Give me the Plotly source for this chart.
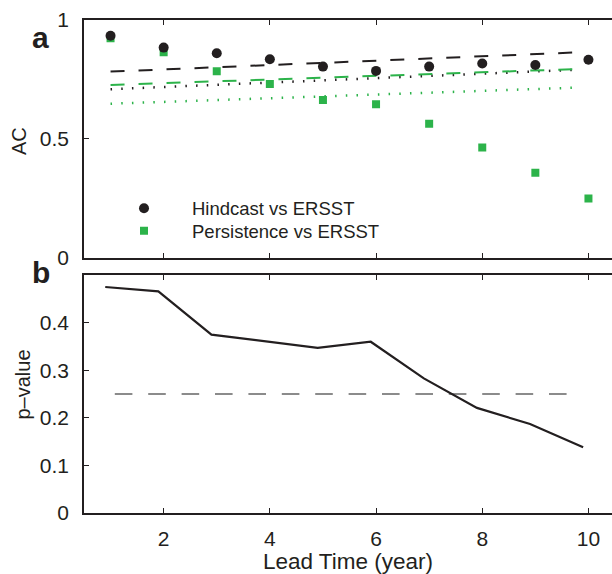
import plotly.graph_objects as go

# Lead times (years)
lead = [1, 2, 3, 4, 5, 6, 7, 8, 9, 10]

# Anomaly correlation skill
hindcast_ac = [0.934, 0.884, 0.860, 0.835, 0.804, 0.786, 0.804, 0.817, 0.811, 0.833]
persistence_ac = [0.923, 0.864, 0.785, 0.731, 0.664, 0.646, 0.564, 0.464, 0.358, 0.250]

# Significance thresholds (straight segments over the lead-time span)
thresh_lead = [1.0, 9.8]
hindcast_thr_hi = [0.783, 0.864]
hindcast_thr_lo = [0.709, 0.791]
persist_thr_hi = [0.727, 0.794]
persist_thr_lo = [0.648, 0.716]

# p-values of the hindcast vs persistence skill difference
pval_lead = [0.9, 1.9, 2.9, 3.9, 4.9, 5.9, 6.9, 7.9, 8.9, 9.9]
pvalue = [0.475, 0.466, 0.375, 0.361, 0.347, 0.360, 0.283, 0.221, 0.187, 0.138]
pref_lead = [1.08, 9.75]
pref_level = [0.25, 0.25]

BLACK = "#231f20"
GREEN = "#2cb34a"
FONT = "Liberation Sans"

fig = go.Figure()

# panel a: threshold lines
fig.add_trace(go.Scatter(x=thresh_lead, y=hindcast_thr_hi, mode="lines", showlegend=False,
                         line=dict(color=BLACK, width=2, dash="14px,14px"), xaxis="x", yaxis="y"))
fig.add_trace(go.Scatter(x=thresh_lead, y=hindcast_thr_lo, mode="lines", showlegend=False,
                         line=dict(color=BLACK, width=2.5, dash="1.5px,9.2px"), xaxis="x", yaxis="y"))
fig.add_trace(go.Scatter(x=thresh_lead, y=persist_thr_hi, mode="lines", showlegend=False,
                         line=dict(color=GREEN, width=2, dash="14px,14px"), xaxis="x", yaxis="y"))
fig.add_trace(go.Scatter(x=thresh_lead, y=persist_thr_lo, mode="lines", showlegend=False,
                         line=dict(color=GREEN, width=2.5, dash="1.5px,9.2px"), xaxis="x", yaxis="y"))

# panel a: skill markers (each with its own legend box)
fig.add_trace(go.Scatter(x=lead, y=persistence_ac, mode="markers", name="Persistence vs ERSST",
                         marker=dict(symbol="square", size=8, color=GREEN, line=dict(width=0)),
                         xaxis="x", yaxis="y", legend="legend2"))
fig.add_trace(go.Scatter(x=lead, y=hindcast_ac, mode="markers", name="Hindcast vs ERSST",
                         marker=dict(symbol="circle", size=10, color=BLACK, line=dict(width=0)),
                         xaxis="x", yaxis="y", legend="legend"))

# panel b: p-value curve and reference level
fig.add_trace(go.Scatter(x=pref_lead, y=pref_level, mode="lines", showlegend=False,
                         line=dict(color="#666666", width=1.4, dash="17.6px,15.8px"),
                         xaxis="x2", yaxis="y2"))
fig.add_trace(go.Scatter(x=pval_lead, y=pvalue, mode="lines", showlegend=False,
                         line=dict(color=BLACK, width=2.2), xaxis="x2", yaxis="y2"))

W, H = 612, 574
ML, MR, MT, MB = 84, 0, 20, 61
PW, PH = W - ML - MR, H - MT - MB


def px(xp):
    return (xp - ML) / PW


def py(yp):
    return (H - MB - yp) / PH


axis_common = dict(showline=True, linewidth=1.5, linecolor=BLACK, ticks="inside", ticklen=5,
                   tickwidth=1, tickcolor=BLACK, showgrid=False, zeroline=False,
                   automargin=False, tickfont=dict(family=FONT, size=21, color=BLACK))

xr = [0.5, 0.5 + PW / 53.1]

legend_common = dict(xanchor="left", yanchor="middle", bgcolor="rgba(0,0,0,0)", borderwidth=0,
                     itemwidth=86, font=dict(family=FONT, size=18.5, color=BLACK))

fig.update_layout(
    width=W, height=H,
    margin=dict(l=ML, r=MR, t=MT, b=MB),
    paper_bgcolor="white", plot_bgcolor="white",
    font=dict(family=FONT, color=BLACK),
    xaxis=dict(axis_common, range=xr, domain=[0, 1], anchor="y", tickvals=[2, 4, 6, 8, 10],
               showticklabels=False, mirror="ticks"),
    yaxis=dict(axis_common, range=[0, 1], domain=[0.5175, 1], anchor="x",
               tickvals=[0, 0.5, 1], ticktext=["0", "0.5", "1"], ticklabelstandoff=9),
    xaxis2=dict(axis_common, range=xr, domain=[0, 1], anchor="y2", tickvals=[2, 4, 6, 8, 10],
                mirror="ticks", ticklabelstandoff=6,
                title=dict(text="Lead Time (year)", font=dict(family=FONT, size=22.5, color=BLACK),
                           standoff=12)),
    yaxis2=dict(axis_common, range=[0, 0.5], domain=[0, 0.4825], anchor="x2",
                tickvals=[0, 0.1, 0.2, 0.3, 0.4], ticktext=["0", "0.1", "0.2", "0.3", "0.4"],
                ticklabelstandoff=9),
    legend=dict(legend_common, x=px(96), y=py(208.7)),
    legend2=dict(legend_common, x=px(96), y=py(231.3)),
    showlegend=True,
)

annots = [
    dict(text="AC", x=px(19), y=py(141), textangle=-90, font=dict(size=20)),
    dict(text="p–value", x=px(22.5), y=py(385), textangle=-90, font=dict(size=20)),
    dict(text="<b>a</b>", x=px(40), y=py(37.5), font=dict(size=30)),
    dict(text="<b>b</b>", x=px(41), y=py(272), font=dict(size=30)),
]
for a in annots:
    a["font"] = dict(family=FONT, color=BLACK, **a["font"])
    fig.add_annotation(xref="paper", yref="paper", showarrow=False, xanchor="center",
                       yanchor="middle", **a)

fig.write_html("out.html")
